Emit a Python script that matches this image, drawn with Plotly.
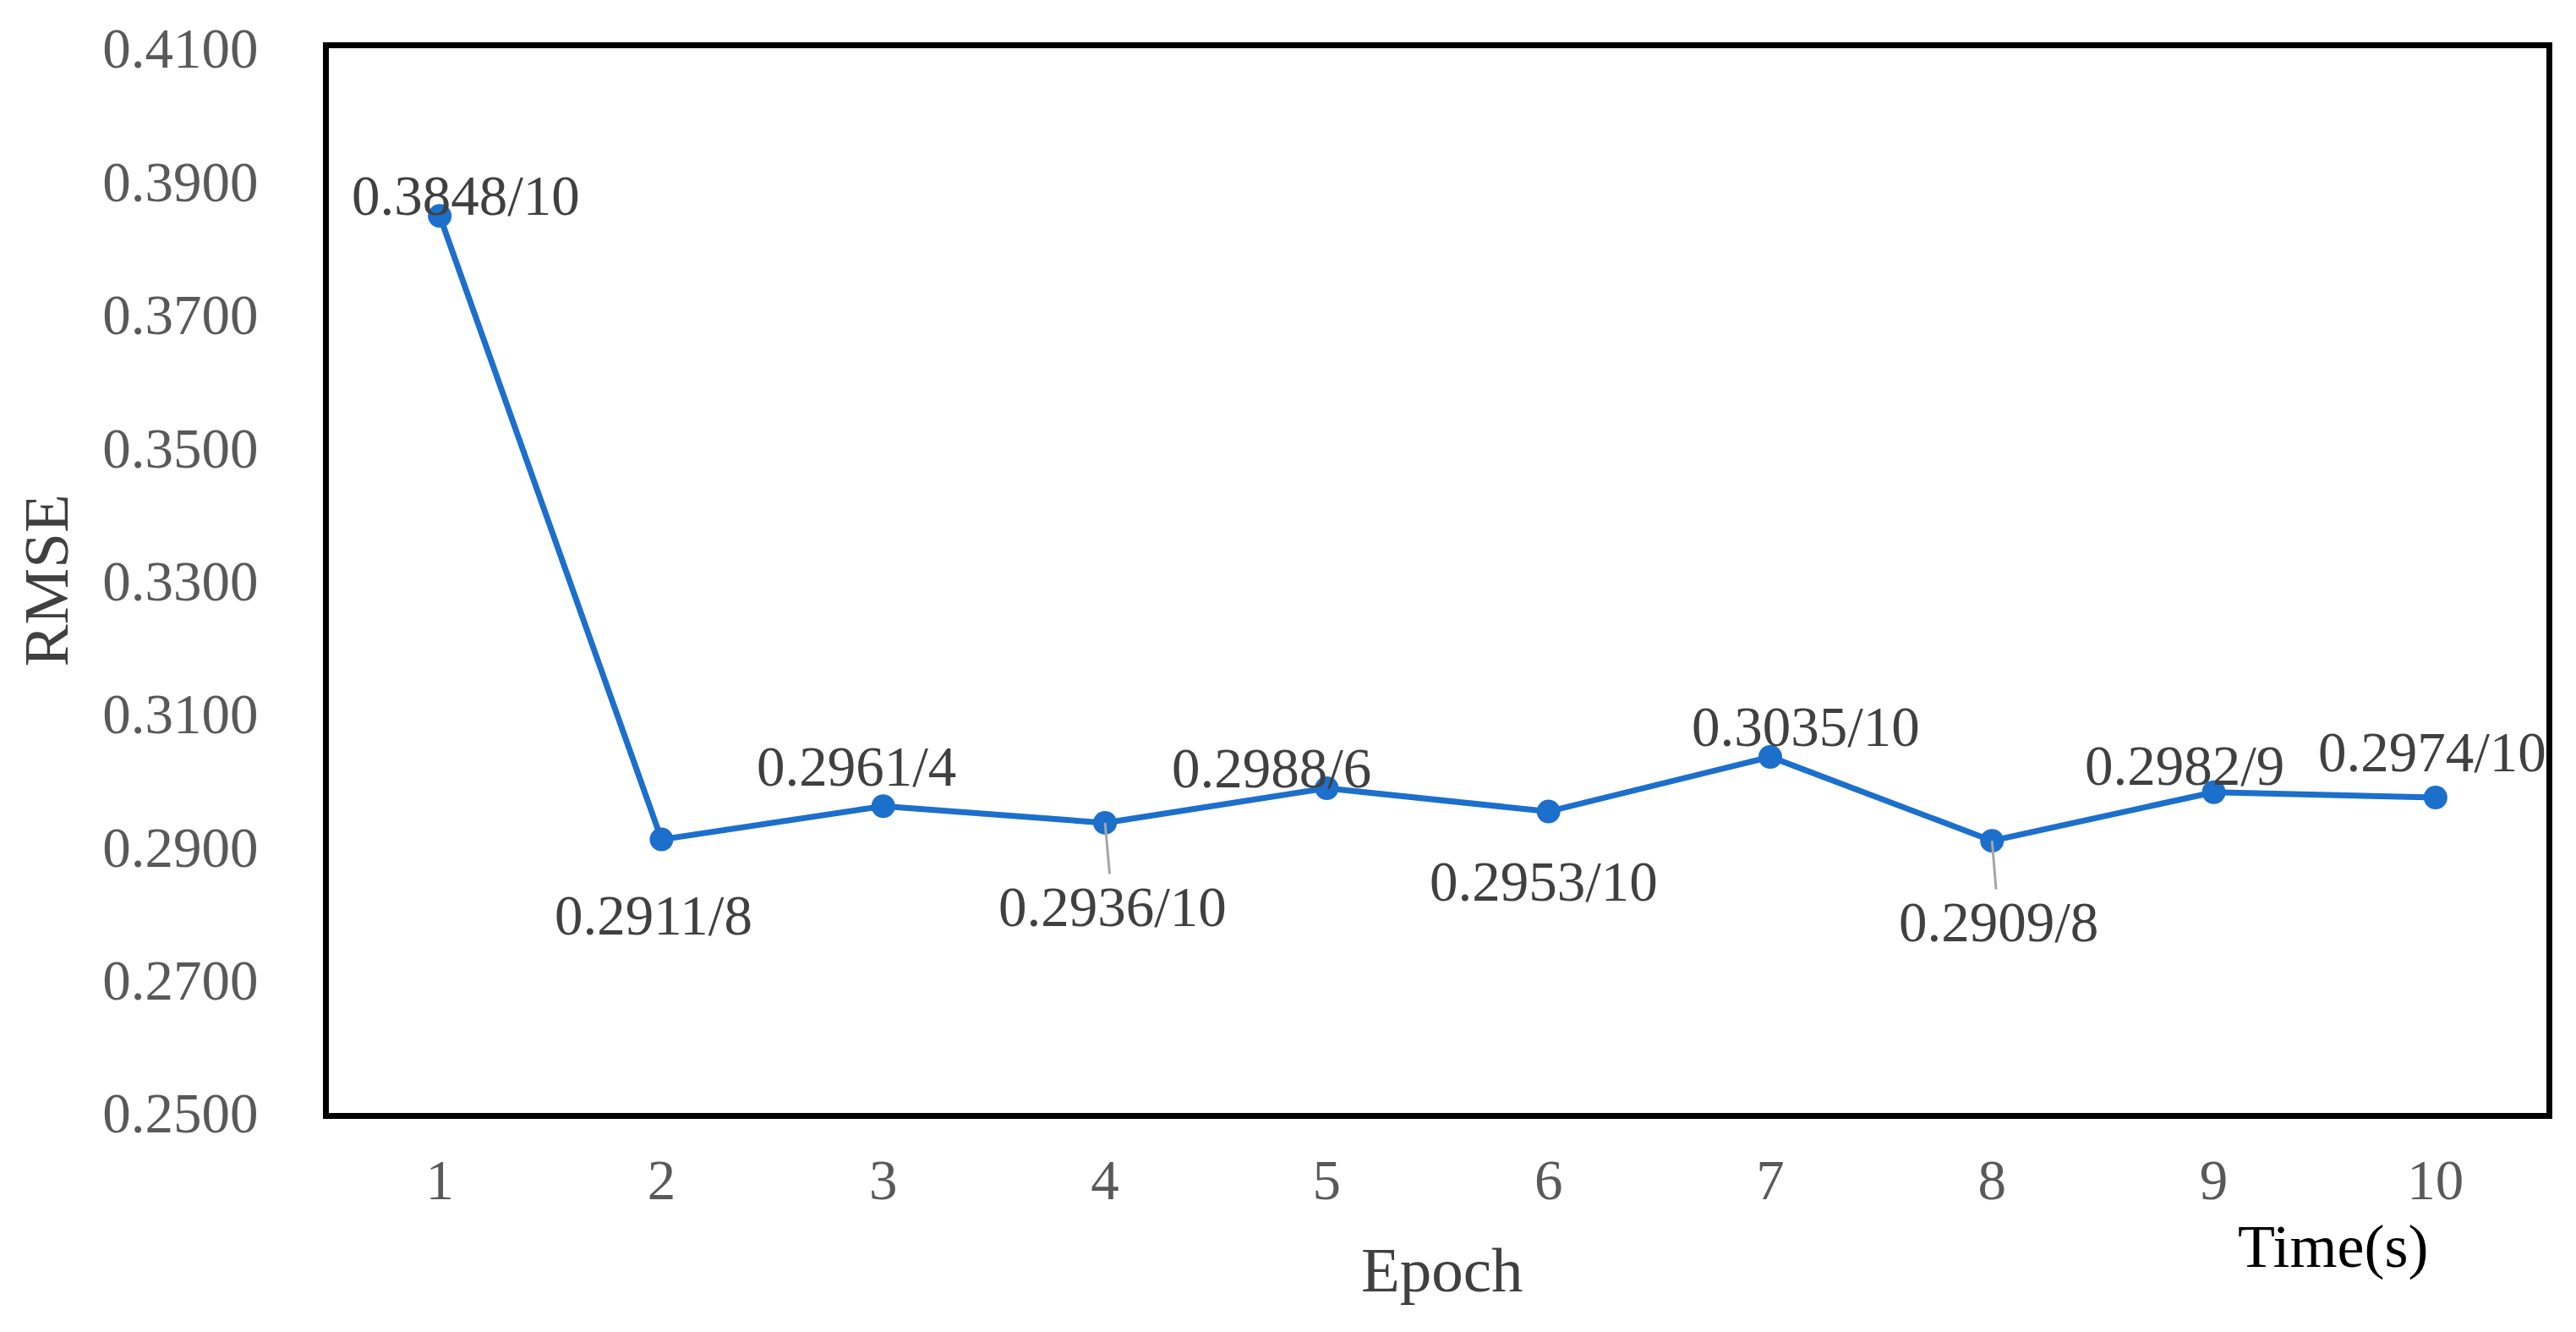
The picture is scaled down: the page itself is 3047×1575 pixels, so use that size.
import plotly.graph_objects as go

epochs = ["1", "2", "3", "4", "5", "6", "7", "8", "9", "10"]
rmse = [0.3848, 0.2911, 0.2961, 0.2936, 0.2988, 0.2953, 0.3035, 0.2909, 0.2982, 0.2974]
times = [10, 8, 4, 10, 6, 10, 10, 8, 9, 10]
y_ticks = [0.25, 0.27, 0.29, 0.31, 0.33, 0.35, 0.37, 0.39, 0.41]

# label offsets (pixels) relative to each point
label_dx = [31, -9, -32, 9, -65, -6, 42, 8, -35, -4]
label_dy = [-24, 89, -47, 99, -24, 82, -36, 96, -32, -54]
leader = [False, False, False, True, False, False, False, True, False, False]

FONT = "Liberation Serif, Times New Roman, serif"
LINE_COLOR = "#1C6FCB"

fig = go.Figure()
fig.add_trace(go.Scatter(
    x=epochs, y=rmse, mode="lines+markers",
    line=dict(color=LINE_COLOR, width=7),
    marker=dict(color=LINE_COLOR, size=28),
    showlegend=False, hoverinfo="skip",
))

annotations = []
for i, (v, t, dx, dy, ld) in enumerate(zip(rmse, times, label_dx, label_dy, leader)):
    txt = f"{v:.4f}/{t}"
    common = dict(x=i, y=v, xref="x", yref="y", text=txt,
                  xanchor="center", yanchor="middle",
                  font=dict(family=FONT, size=67, color="#404040"))
    if ld:
        annotations.append(dict(
            **common, showarrow=True, ax=dx, ay=dy, arrowhead=0, arrowwidth=3,
            arrowcolor="#A6A6A6", standoff=0,
        ))
    else:
        annotations.append(dict(**common, showarrow=False, xshift=dx, yshift=-dy))

PLOT_W = 3031 - 381 - 27

annotations.append(dict(
    text="RMSE", xref="paper", yref="paper", x=0, y=0.5,
    xanchor="center", yanchor="middle",
    xshift=-335, textangle=-90, showarrow=False,
    font=dict(family=FONT, size=75, color="#404040"),
))
annotations.append(dict(
    text="Epoch", xref="paper", yref="paper", x=0.5, y=0,
    xanchor="center", yanchor="middle",
    xshift=5, yshift=-185, showarrow=False,
    font=dict(family=FONT, size=75, color="#404040"),
))
annotations.append(dict(
    text="Time(s)", xref="paper", yref="paper", x=0.9, y=0,
    xanchor="center", yanchor="middle",
    xshift=(2759 - (389 + 0.9 * PLOT_W)), yshift=-158, showarrow=False,
    font=dict(family=FONT, size=72, color="#000000"),
))

fig.update_layout(
    width=3031, height=1559,
    margin=dict(l=381, r=27, t=46, b=251),
    paper_bgcolor="white", plot_bgcolor="white",
    annotations=annotations,
    xaxis=dict(
        type="category", range=[-0.5, 9.5],
        showline=True, linecolor="black", linewidth=7, mirror=True,
        showgrid=False, zeroline=False, ticks="",
        ticklabelstandoff=15,
        tickfont=dict(family=FONT, size=67, color="#595959"),
    ),
    yaxis=dict(
        range=[0.25, 0.41], tickvals=y_ticks, tickformat=".4f",
        showline=True, linecolor="black", linewidth=7, mirror=True,
        showgrid=False, zeroline=False, ticks="",
        ticklabelstandoff=63,
        tickfont=dict(family=FONT, size=67, color="#595959"),
    ),
)

fig.write_html("out.html")
